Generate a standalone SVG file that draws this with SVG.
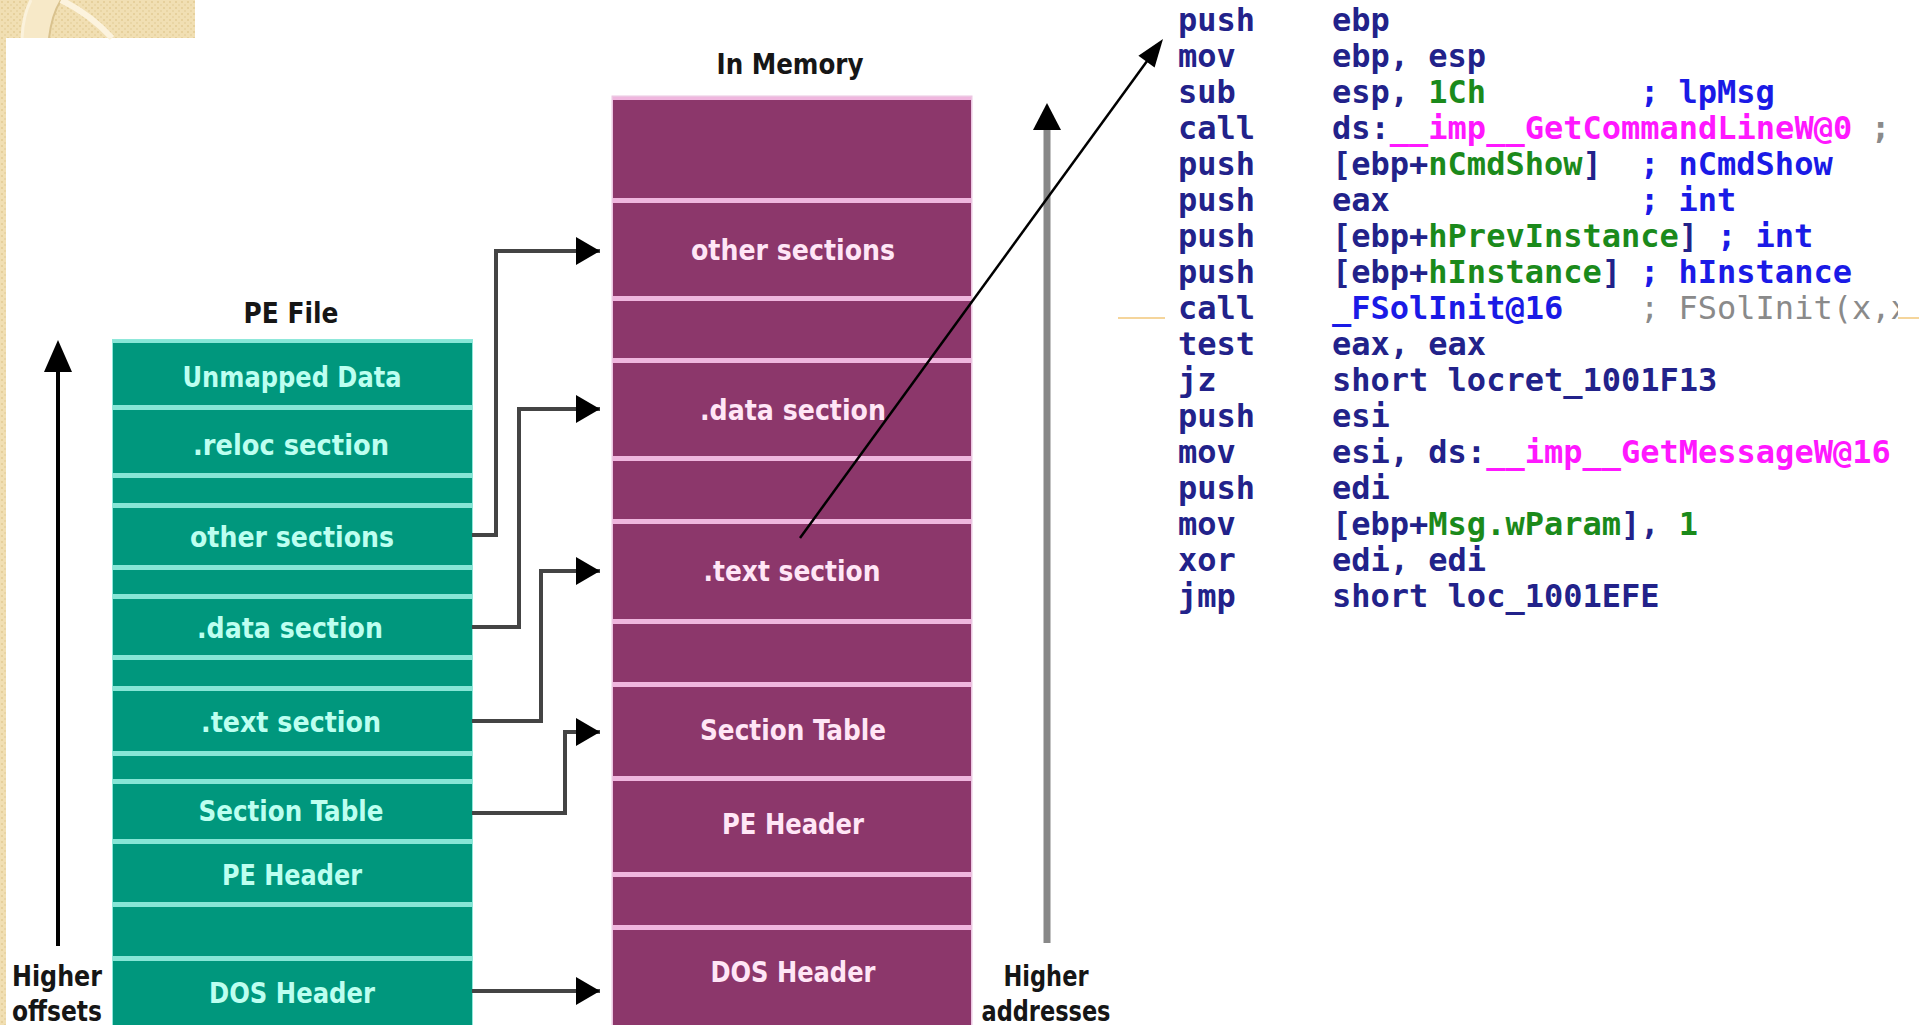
<svg xmlns="http://www.w3.org/2000/svg" width="1919" height="1025" viewBox="0 0 1919 1025">
<style>
.gb{fill:#00977d}
.gs{fill:#86e6d6}
.gd{fill:#00725f}
.pb{fill:#8c376b}
.ps{fill:#efb6de}
.pd{fill:#6c2150}
.gt{font-family:"DejaVu Sans Condensed","DejaVu Sans",sans-serif;font-weight:bold;font-size:29px;fill:#bdfff0;text-anchor:middle}
.pt{font-family:"DejaVu Sans Condensed","DejaVu Sans",sans-serif;font-weight:bold;font-size:29px;fill:#ffe6f6;text-anchor:middle}
.bt{font-family:"DejaVu Sans Condensed","DejaVu Sans",sans-serif;font-weight:bold;font-size:29px;fill:#161616;text-anchor:middle}
.code{font-family:"DejaVu Sans Mono","Liberation Mono",monospace;font-weight:bold;font-size:32px;fill:#22228a}
.cg{fill:#1b8a1b}
.cm{fill:#ff18ff}
.cb{fill:#1a1ae6}
.cy{fill:#8a8a8a}
.conn{fill:none;stroke:#444;stroke-width:4}
</style>
<defs>
<pattern id="dots" width="6" height="6" patternUnits="userSpaceOnUse">
<rect width="6" height="6" fill="#f1dfb3"/>
<rect x="1" y="1" width="2" height="2" fill="#e6d09c"/>
<rect x="4" y="4" width="2" height="2" fill="#e9d5a4"/>
</pattern>
<marker id="ah" viewBox="0 0 24 28" refX="24" refY="14" markerWidth="24" markerHeight="28" markerUnits="userSpaceOnUse" orient="auto">
<path d="M0,0 L24,14 L0,28 Z" fill="#000"/>
</marker>
<clipPath id="codeclip"><rect x="1100" y="0" width="798" height="1025"/></clipPath>
</defs>

<rect width="1919" height="1025" fill="#ffffff"/>
<g id="backdrop">
<rect x="0" y="0" width="195" height="38" fill="url(#dots)"/>
<rect x="0" y="38" width="6" height="987" fill="url(#dots)"/>
<path d="M22,38 Q23,15 31,0 L61,0 Q52,14 49,38 Z" fill="#f7e9c8"/>
<path d="M22,38 Q23,15 31,0" fill="none" stroke="#fbf2dc" stroke-width="3"/>
<path d="M49,38 Q52,14 61,0" fill="none" stroke="#d9c28e" stroke-width="2"/>
<path d="M61,0 Q90,14 112,38" fill="none" stroke="#fcf3de" stroke-width="6"/>
<line x1="1118" y1="318" x2="1165" y2="318" stroke="#f2c77a" stroke-width="1.5"/>
<line x1="1898" y1="318" x2="1919" y2="318" stroke="#f2c77a" stroke-width="1.5"/>
</g>

<g id="pe-file">
<text class="bt" x="291" y="323" textLength="95" lengthAdjust="spacingAndGlyphs">PE File</text>
<rect x="113" y="340" width="359" height="685" class="gb" stroke="#8fe8da" stroke-width="2"/>
<g id="pe-unmapped"><rect x="113" y="340" width="359" height="67" class="gb"/><text class="gt" x="292" y="387" textLength="219" lengthAdjust="spacingAndGlyphs">Unmapped Data</text></g>
<g id="pe-reloc"><rect x="113" y="407" width="359" height="68" class="gb"/><text class="gt" x="291" y="455" textLength="196" lengthAdjust="spacingAndGlyphs">.reloc section</text></g>
<g id="pe-gap1"><rect x="113" y="475" width="359" height="30" class="gb"/></g>
<g id="pe-other"><rect x="113" y="505" width="359" height="62" class="gb"/><text class="gt" x="292" y="547" textLength="204" lengthAdjust="spacingAndGlyphs">other sections</text></g>
<g id="pe-gap2"><rect x="113" y="567" width="359" height="29" class="gb"/></g>
<g id="pe-data"><rect x="113" y="596" width="359" height="61" class="gb"/><text class="gt" x="290" y="638" textLength="186" lengthAdjust="spacingAndGlyphs">.data section</text></g>
<g id="pe-gap3"><rect x="113" y="657" width="359" height="31" class="gb"/></g>
<g id="pe-text"><rect x="113" y="688" width="359" height="65" class="gb"/><text class="gt" x="291" y="732" textLength="180" lengthAdjust="spacingAndGlyphs">.text section</text></g>
<g id="pe-gap4"><rect x="113" y="753" width="359" height="28" class="gb"/></g>
<g id="pe-sectab"><rect x="113" y="781" width="359" height="60" class="gb"/><text class="gt" x="291" y="821" textLength="185" lengthAdjust="spacingAndGlyphs">Section Table</text></g>
<g id="pe-pehdr"><rect x="113" y="841" width="359" height="63" class="gb"/><text class="gt" x="292" y="885" textLength="140" lengthAdjust="spacingAndGlyphs">PE Header</text></g>
<g id="pe-gap5"><rect x="113" y="904" width="359" height="54" class="gb"/></g>
<g id="pe-dos"><rect x="113" y="958" width="359" height="67" class="gb"/><text class="gt" x="292" y="1003" textLength="166" lengthAdjust="spacingAndGlyphs">DOS Header</text></g>
<g id="pe-separators">
<rect x="113" y="340" width="359" height="3" class="gs"/>
<rect x="113" y="405" width="359" height="5" class="gs"/>
<rect x="113" y="473" width="359" height="5" class="gs"/>
<rect x="113" y="503" width="359" height="5" class="gs"/>
<rect x="113" y="565" width="359" height="5" class="gs"/>
<rect x="113" y="594" width="359" height="5" class="gs"/>
<rect x="113" y="655" width="359" height="5" class="gs"/>
<rect x="113" y="686" width="359" height="5" class="gs"/>
<rect x="113" y="751" width="359" height="5" class="gs"/>
<rect x="113" y="779" width="359" height="5" class="gs"/>
<rect x="113" y="839" width="359" height="5" class="gs"/>
<rect x="113" y="902" width="359" height="5" class="gs"/>
<rect x="113" y="956" width="359" height="5" class="gs"/>
</g>
</g>

<g id="in-memory">
<text class="bt" x="790" y="74" textLength="147" lengthAdjust="spacingAndGlyphs">In Memory</text>
<rect x="613" y="97" width="358" height="928" class="pb" stroke="#ecc6e2" stroke-width="3"/>
<g id="mem-top"><rect x="613" y="97" width="358" height="103" class="pb"/></g>
<g id="mem-other"><rect x="613" y="200" width="358" height="98" class="pb"/><text class="pt" x="793" y="260" textLength="204" lengthAdjust="spacingAndGlyphs">other sections</text></g>
<g id="mem-gap1"><rect x="613" y="298" width="358" height="62" class="pb"/></g>
<g id="mem-data"><rect x="613" y="360" width="358" height="98" class="pb"/><text class="pt" x="793" y="420" textLength="186" lengthAdjust="spacingAndGlyphs">.data section</text></g>
<g id="mem-gap2"><rect x="613" y="458" width="358" height="63" class="pb"/></g>
<g id="mem-text"><rect x="613" y="521" width="358" height="100" class="pb"/><text class="pt" x="792" y="581" textLength="177" lengthAdjust="spacingAndGlyphs">.text section</text></g>
<g id="mem-gap3"><rect x="613" y="621" width="358" height="63" class="pb"/></g>
<g id="mem-sectab"><rect x="613" y="684" width="358" height="94" class="pb"/><text class="pt" x="793" y="740" textLength="186" lengthAdjust="spacingAndGlyphs">Section Table</text></g>
<g id="mem-pehdr"><rect x="613" y="778" width="358" height="96" class="pb"/><text class="pt" x="793" y="834" textLength="142" lengthAdjust="spacingAndGlyphs">PE Header</text></g>
<g id="mem-gap4"><rect x="613" y="874" width="358" height="53" class="pb"/></g>
<g id="mem-dos"><rect x="613" y="927" width="358" height="98" class="pb"/><text class="pt" x="793" y="982" textLength="165" lengthAdjust="spacingAndGlyphs">DOS Header</text></g>
<g id="mem-separators">
<rect x="613" y="97" width="358" height="3" class="ps"/>
<rect x="613" y="198" width="358" height="5" class="ps"/>
<rect x="613" y="296" width="358" height="5" class="ps"/>
<rect x="613" y="358" width="358" height="5" class="ps"/>
<rect x="613" y="456" width="358" height="5" class="ps"/>
<rect x="613" y="519" width="358" height="5" class="ps"/>
<rect x="613" y="619" width="358" height="5" class="ps"/>
<rect x="613" y="682" width="358" height="5" class="ps"/>
<rect x="613" y="776" width="358" height="5" class="ps"/>
<rect x="613" y="872" width="358" height="5" class="ps"/>
<rect x="613" y="925" width="358" height="5" class="ps"/>
</g>
</g>

<g id="axis-offsets">
<line x1="58" y1="365" x2="58" y2="946" stroke="#000" stroke-width="4"/>
<path d="M58,340 L72,372 L44,372 Z" fill="#000"/>
<text class="bt" x="57" y="986" textLength="90" lengthAdjust="spacingAndGlyphs">Higher</text>
<text class="bt" x="57" y="1021" textLength="90" lengthAdjust="spacingAndGlyphs">offsets</text>
</g>

<g id="axis-addresses">
<line x1="1047" y1="122" x2="1047" y2="943" stroke="#888" stroke-width="7"/>
<path d="M1047,103 L1061,130 L1033,130 Z" fill="#000"/>
<text class="bt" x="1046" y="986" textLength="85" lengthAdjust="spacingAndGlyphs">Higher</text>
<text class="bt" x="1046" y="1021" textLength="129" lengthAdjust="spacingAndGlyphs">addresses</text>
</g>

<g id="code" class="code" clip-path="url(#codeclip)">
<text x="1178" y="31">push</text><text x="1332" y="31">ebp</text>
<text x="1178" y="67">mov</text><text x="1332" y="67">ebp, esp</text>
<text x="1178" y="103">sub</text><text x="1332" y="103">esp, <tspan class="cg">1Ch</tspan></text><text x="1640" y="103" class="cb">; lpMsg</text>
<text x="1178" y="139">call</text><text x="1332" y="139">ds:<tspan class="cm">__imp__GetCommandLineW@0</tspan></text><text x="1871" y="139" class="cy">;</text>
<text x="1178" y="175">push</text><text x="1332" y="175">[ebp+<tspan class="cg">nCmdShow</tspan>]</text><text x="1640" y="175" class="cb">; nCmdShow</text>
<text x="1178" y="211">push</text><text x="1332" y="211">eax</text><text x="1640" y="211" class="cb">; int</text>
<text x="1178" y="247">push</text><text x="1332" y="247">[ebp+<tspan class="cg">hPrevInstance</tspan>]</text><text x="1717" y="247" class="cb">; int</text>
<text x="1178" y="283">push</text><text x="1332" y="283">[ebp+<tspan class="cg">hInstance</tspan>]</text><text x="1640" y="283" class="cb">; hInstance</text>
<text x="1178" y="319">call</text><text x="1332" y="319" class="cb">_FSolInit@16</text><text x="1640" y="319" class="cy" style="font-weight:normal">; FSolInit(x,x</text>
<text x="1178" y="355">test</text><text x="1332" y="355">eax, eax</text>
<text x="1178" y="391">jz</text><text x="1332" y="391">short locret_1001F13</text>
<text x="1178" y="427">push</text><text x="1332" y="427">esi</text>
<text x="1178" y="463">mov</text><text x="1332" y="463">esi, ds:<tspan class="cm">__imp__GetMessageW@16</tspan></text>
<text x="1178" y="499">push</text><text x="1332" y="499">edi</text>
<text x="1178" y="535">mov</text><text x="1332" y="535">[ebp+<tspan class="cg">Msg.wParam</tspan>], <tspan class="cg">1</tspan></text>
<text x="1178" y="571">xor</text><text x="1332" y="571">edi, edi</text>
<text x="1178" y="607">jmp</text><text x="1332" y="607">short loc_1001EFE</text>
</g>

<g id="connectors">
<path class="conn" d="M472,535 H496 V251 H600" marker-end="url(#ah)"/>
<path class="conn" d="M472,627 H519 V409 H600" marker-end="url(#ah)"/>
<path class="conn" d="M472,721 H541 V571 H600" marker-end="url(#ah)"/>
<path class="conn" d="M472,813 H565 V732 H600" marker-end="url(#ah)"/>
<path class="conn" d="M472,991 H600" marker-end="url(#ah)"/>
<line x1="800" y1="538" x2="1150" y2="57" stroke="#000" stroke-width="2.5"/>
<path d="M1163,39 L1154.6,67.5 L1138.4,55.7 Z" fill="#000"/>
</g>
</svg>
